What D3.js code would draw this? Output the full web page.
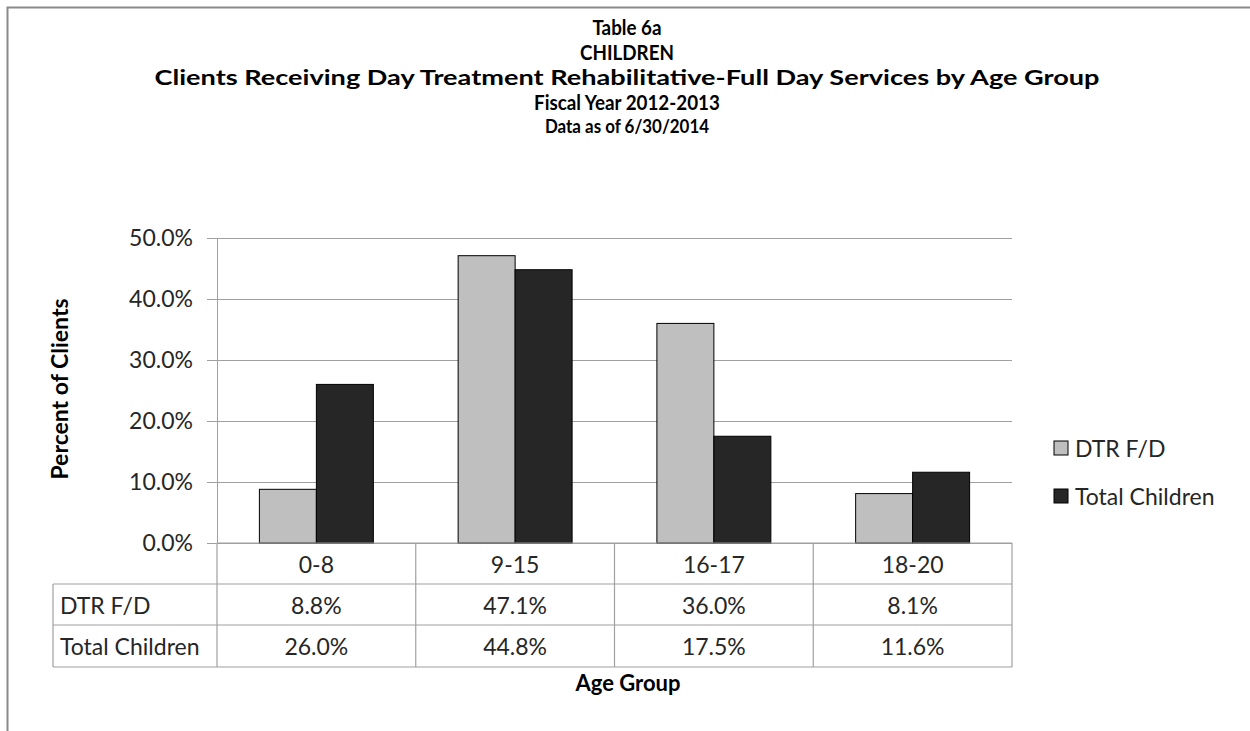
<!DOCTYPE html>
<html>
<head>
<meta charset="utf-8">
<script src="https://cdn.jsdelivr.net/npm/d3@7"></script>
<style>
  html, body { margin: 0; padding: 0; background: #fff; }
  svg { display: block; font-family: Lato, "Open Sans", sans-serif; }
</style>
</head>
<body>
<svg id="chart" width="1250" height="731"></svg>
<script>
// ---- data ----
const categories = ["0-8", "9-15", "16-17", "18-20"];
const seriesNames = ["DTR F/D", "Total Children"];
const dtrValues = [8.8, 47.1, 36.0, 8.1];
const totalValues = [26.0, 44.8, 17.5, 11.6];
const yTicks = [0, 10, 20, 30, 40, 50];
const titleLines = ["Table 6a", "CHILDREN",
  "Clients Receiving Day Treatment Rehabilitative-Full Day Services by Age Group",
  "Fiscal Year 2012-2013", "Data as of 6/30/2014"];
const yTitle = "Percent of Clients";
const xTitle = "Age Group";
const seriesColors = ["#bfbfbf", "#262626"];

const seriesValues = [dtrValues, totalValues];

const svg = d3.select("#chart");

// frame
svg.append("path")
  .attr("d", "M7.5,731 L7.5,7.5 L1250,7.5")
  .attr("fill", "none").attr("stroke", "#8a8a8a").attr("stroke-width", 2);

// layout
const plot = { left: 217, right: 1012, top: 238, bottom: 543 };
const x0 = d3.scaleBand().domain(categories).range([plot.left, plot.right]).padding(0);
const x1 = d3.scaleBand().domain(seriesNames).range([0, x0.bandwidth()])
  .paddingInner(0).paddingOuter(0.744);
const y = d3.scaleLinear().domain([0, 50]).range([plot.bottom, plot.top]);

// title (condensed to match the reference's narrow bold face)
const titleSizes = [20, 20, 21, 20, 18];
const titleBase = [35, 59.5, 85, 109.5, 133];
const mainTitleWidth = 945;
const squeeze = 0.94;
const tg = svg.append("g").attr("font-weight", "bold").attr("fill", "#000");
titleLines.forEach((t, i) => {
  const el = tg.append("text")
    .attr("x", 627).attr("y", titleBase[i])
    .attr("text-anchor", "middle")
    .attr("font-size", titleSizes[i])
    .text(t);
  const w = el.node().getComputedTextLength();
  el.attr("textLength", i === 2 ? mainTitleWidth : w * squeeze)
    .attr("lengthAdjust", "spacingAndGlyphs");
});

// gridlines
svg.append("g")
  .attr("transform", `translate(${plot.left},0)`)
  .call(d3.axisLeft(y).tickValues(yTicks).tickSize(-(plot.right - plot.left)).tickFormat(""))
  .call(g => g.select(".domain").remove())
  .call(g => g.selectAll("line").attr("stroke", "#a0a0a0").attr("stroke-width", 1));

// y axis with ticks and labels
svg.append("g")
  .attr("transform", `translate(${plot.left},0)`)
  .call(d3.axisLeft(y).tickValues(yTicks).tickSize(10).tickSizeOuter(0).tickPadding(14)
    .tickFormat(d => d3.format(".1f")(d) + "%"))
  .call(g => g.select(".domain").attr("stroke", "#a0a0a0"))
  .call(g => g.selectAll(".tick line").attr("stroke", "#a0a0a0"))
  .call(g => g.selectAll(".tick text")
    .attr("font-family", "Lato, sans-serif").attr("font-size", 23).attr("fill", "#262626"));

// bars
const groups = svg.append("g").selectAll("g")
  .data(categories)
  .join("g")
  .attr("transform", d => `translate(${x0(d)},0)`);

groups.selectAll("rect")
  .data((c, ci) => seriesNames.map((s, si) => ({ s, si, v: seriesValues[si][ci] })))
  .join("rect")
  .attr("x", d => x1(d.s))
  .attr("width", x1.bandwidth())
  .attr("y", d => y(d.v))
  .attr("height", d => y(0) - y(d.v))
  .attr("fill", d => seriesColors[d.si])
  .attr("stroke", "#000")
  .attr("stroke-width", 1);

// data table
const tableLeft = 53;
const rowEdges = [543, 584, 625, 667];
const tcol = "#a0a0a0";
const tbl = svg.append("g").attr("stroke", tcol).attr("stroke-width", 1.2);
tbl.append("line").attr("x1", plot.left).attr("x2", plot.right).attr("y1", rowEdges[0]).attr("y2", rowEdges[0]);
[1, 2, 3].forEach(i => {
  tbl.append("line").attr("x1", tableLeft).attr("x2", plot.right)
    .attr("y1", rowEdges[i]).attr("y2", rowEdges[i]);
});
tbl.append("line").attr("x1", tableLeft).attr("x2", tableLeft).attr("y1", rowEdges[1]).attr("y2", rowEdges[3]);
const colEdges = categories.map(c => x0(c)).concat([plot.right]);
colEdges.forEach(xv => {
  tbl.append("line").attr("x1", xv).attr("x2", xv).attr("y1", rowEdges[0]).attr("y2", rowEdges[3]);
});

const tt = svg.append("g").attr("font-size", 23).attr("fill", "#262626");
const rowMid = i => (rowEdges[i] + rowEdges[i + 1]) / 2;
categories.forEach((c, ci) => {
  tt.append("text").attr("x", x0(c) + x0.bandwidth() / 2).attr("y", rowMid(0))
    .attr("text-anchor", "middle").attr("dominant-baseline", "central").text(c);
  seriesValues.forEach((vals, si) => {
    tt.append("text").attr("x", x0(c) + x0.bandwidth() / 2).attr("y", rowMid(si + 1))
      .attr("text-anchor", "middle").attr("dominant-baseline", "central")
      .text(d3.format(".1f")(vals[ci]) + "%");
  });
});
seriesNames.forEach((s, si) => {
  tt.append("text").attr("x", 60).attr("y", rowMid(si + 1))
    .attr("dominant-baseline", "central").text(s);
});

// axis titles
svg.append("text")
  .attr("transform", "translate(59,389) rotate(-90)")
  .attr("text-anchor", "middle").attr("dominant-baseline", "central")
  .attr("font-weight", "bold").attr("font-size", 23).attr("fill", "#000")
  .text(yTitle);
svg.append("text")
  .attr("x", 628).attr("y", 691)
  .attr("text-anchor", "middle")
  .attr("font-weight", "bold").attr("font-size", 22).attr("fill", "#000")
  .text(xTitle);

// legend
const legendY = [448, 496];
const lg = svg.append("g");
seriesNames.forEach((s, si) => {
  lg.append("rect").attr("x", 1054).attr("y", legendY[si] - 7)
    .attr("width", 14).attr("height", 14)
    .attr("fill", seriesColors[si]).attr("stroke", "#000").attr("stroke-width", 1);
  lg.append("text").attr("x", 1075).attr("y", legendY[si])
    .attr("dominant-baseline", "central").attr("font-size", 23).attr("fill", "#262626")
    .text(s);
});
</script>
</body>
</html>
